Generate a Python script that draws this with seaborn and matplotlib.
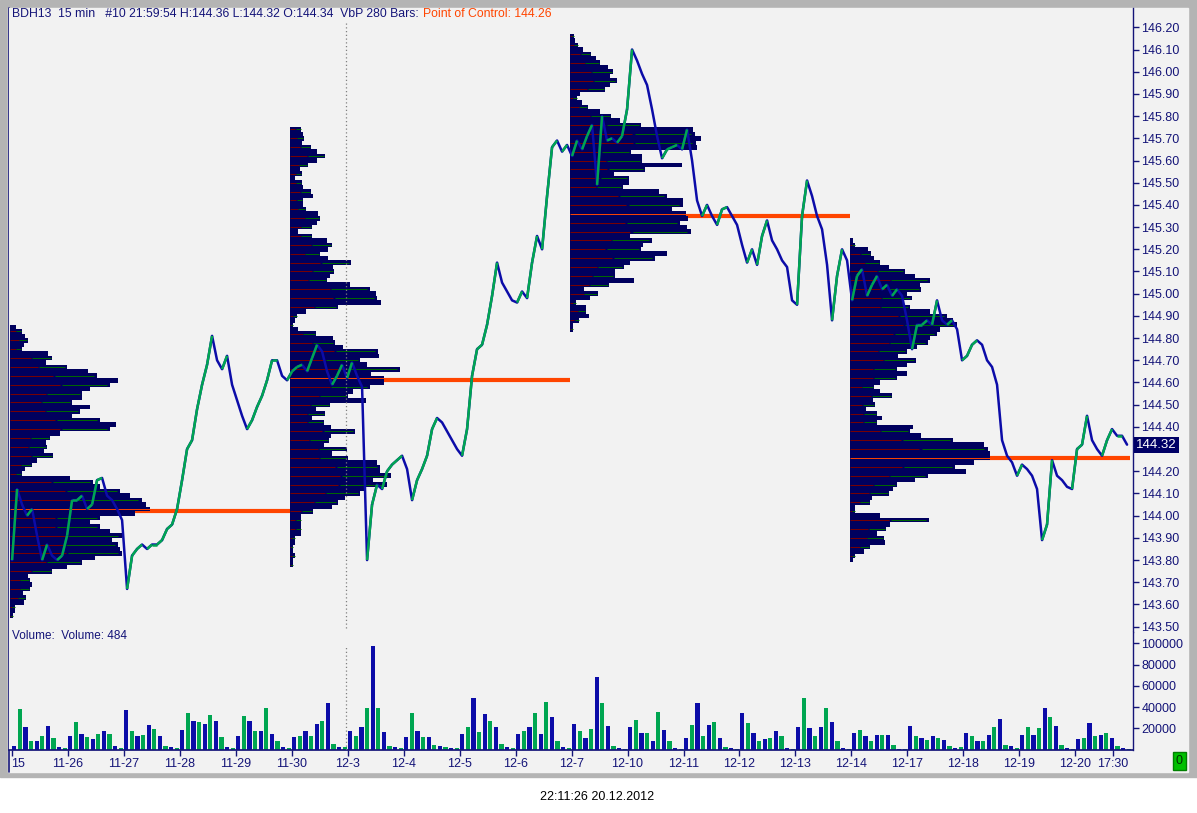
import numpy as np
import matplotlib.pyplot as plt
import seaborn as sns
from matplotlib.collections import LineCollection
from matplotlib.patches import Rectangle
from matplotlib.lines import Line2D

sns.set_theme(style='white')
plt.rcParams['font.family'] = ['Liberation Sans', 'DejaVu Sans']

# 15 min closes, one every ~1/11 of a session
close = [
    143.80, 144.12, 144.05, 144.00, 144.03, 143.91, 143.80, 143.87, 143.82, 143.80,
    143.82, 143.91, 144.07, 144.07, 144.09, 144.03, 144.05, 144.16, 144.17, 144.09,
    144.07, 144.03, 143.98, 143.67, 143.82, 143.85, 143.87, 143.85, 143.87, 143.87,
    143.89, 143.94, 143.96, 144.03, 144.16, 144.30, 144.34, 144.48, 144.59, 144.68,
    144.81, 144.70, 144.66, 144.72, 144.59, 144.52, 144.45, 144.39, 144.43, 144.49,
    144.54, 144.61, 144.70, 144.70, 144.63, 144.61, 144.65, 144.67, 144.68, 144.65,
    144.71, 144.77, 144.74, 144.65, 144.59, 144.63, 144.68, 144.62, 144.69, 144.63,
    144.58, 143.80, 144.05, 144.14, 144.12, 144.20, 144.23, 144.25, 144.27, 144.21,
    144.07, 144.16, 144.21, 144.27, 144.39, 144.44, 144.42, 144.38, 144.34, 144.30,
    144.27, 144.39, 144.63, 144.75, 144.77, 144.86, 144.99, 145.14, 145.05, 145.01,
    144.97, 144.96, 145.01, 144.98, 145.14, 145.26, 145.20, 145.44, 145.66, 145.69,
    145.64, 145.67, 145.62, 145.69, 145.65, 145.71, 145.76, 145.49, 145.80, 145.69,
    145.70, 145.68, 145.71, 145.83, 146.10, 146.05, 145.99, 145.94, 145.83, 145.71,
    145.61, 145.65, 145.66, 145.67, 145.65, 145.74, 145.60, 145.42, 145.35, 145.40,
    145.35, 145.31, 145.38, 145.39, 145.35, 145.31, 145.22, 145.14, 145.20, 145.13,
    145.26, 145.33, 145.24, 145.20, 145.15, 145.12, 144.97, 144.95, 145.35, 145.51,
    145.44, 145.35, 145.29, 145.13, 144.88, 145.08, 145.20, 145.15, 144.97, 145.08,
    145.11, 144.99, 145.04, 145.08, 145.02, 145.04, 144.99, 145.02, 144.99, 144.88,
    144.75, 144.86, 144.86, 144.88, 144.86, 144.97, 144.88, 144.86, 144.88, 144.84,
    144.70, 144.72, 144.77, 144.79, 144.77, 144.70, 144.67, 144.59, 144.34, 144.27,
    144.24, 144.18, 144.23, 144.21, 144.18, 144.12, 143.89, 143.96, 144.25, 144.18,
    144.16, 144.13, 144.12, 144.30, 144.32, 144.45, 144.34, 144.30, 144.27, 144.34,
    144.39, 144.36, 144.36, 144.32,
]

# volume, 10 buckets per session
volume = [
    3700, 37800, 20800, 8400, 8400, 13000, 22300, 10900, 2200, 1200,
    13000, 26000, 14600, 11500, 9900, 14600, 17700, 14600, 3700, 1600,
    37200, 17700, 12400, 14000, 23300, 19200, 13000, 3100, 2200, 1600,
    18600, 34100, 27000, 26400, 23900, 32600, 27000, 11500, 2800, 1600,
    13000, 31600, 27000, 17700, 17700, 38800, 14600, 8400, 2200, 1600,
    11500, 13000, 17700, 13000, 23900, 27000, 43400, 5300, 2200, 2200,
    17700, 13000, 20800, 38800, 97700, 39400, 16100, 3700, 2200, 1600,
    11500, 34100, 17700, 12100, 11500, 4700, 3700, 2800, 1600, 1600,
    14600, 20800, 48700, 16700, 33200, 27000, 20800, 5300, 2200, 1600,
    14600, 17700, 20800, 34700, 14600, 44600, 31000, 8400, 2200, 1600,
    24200, 17100, 10900, 19500, 68200, 43400, 22600, 3100, 1600, 900,
    21700, 27900, 15500, 15500, 7800, 35700, 18600, 7800, 1600, 900,
    10900, 23300, 44000, 12400, 23300, 26400, 10900, 2200, 1600, 900,
    34100, 24800, 15500, 7800, 10200, 10900, 17100, 12400, 1600, 900,
    21700, 48700, 20200, 12400, 21700, 38800, 26400, 7800, 1600, 900,
    15500, 18600, 12400, 7800, 14000, 14000, 14000, 4700, 900, 900,
    22600, 12400, 10900, 9300, 12400, 10900, 9300, 3100, 1600, 2200,
    15500, 12400, 8400, 7800, 14000, 21700, 28800, 4000, 3100, 1600,
    13300, 21700, 14000, 20200, 39400, 31000, 22300, 4700, 1600, 900,
    10200, 10900, 25400, 12400, 14000, 15500, 10900, 3100, 1600, 900,
]

# volume-at-price profiles (280 bars each), 0.02 price rows from top down
prof_top = [144.85, 145.74, 146.16, 145.24]
prof_start = [-0.03, 4.97, 9.97, 14.97]
poc = [144.02, 144.61, 145.35, 144.26]
prof1 = [6, 12, 15, 18, 14, 12, 38, 42, 36, 57, 78, 87, 108, 100, 80, 72, 72, 62, 80, 70,
         62, 90, 106, 100, 50, 40, 36, 37, 34, 43, 27, 22, 15, 12, 60, 83, 90, 110, 120, 132,
         136, 140, 125, 90, 80, 90, 100, 112, 102, 108, 110, 112, 85, 72, 57, 42, 18, 20, 22, 20,
         13, 16, 14, 5, 5, 3]
prof2 = [11, 13, 14, 12, 21, 27, 35, 27, 18, 10, 12, 5, 12, 13, 21, 23, 13, 13, 16, 28,
         30, 27, 22, 8, 22, 37, 42, 38, 30, 38, 61, 43, 44, 40, 37, 60, 80, 86, 87, 91,
         48, 16, 7, 5, 3, 8, 26, 43, 45, 53, 88, 89, 70, 77, 110, 81, 94, 94, 80, 63,
         58, 76, 40, 26, 35, 22, 34, 41, 65, 41, 39, 34, 57, 42, 58, 87, 90, 90, 101, 83,
         97, 76, 70, 55, 48, 42, 23, 11, 11, 11, 11, 11, 5, 5, 3, 3, 5, 3, 3]
prof3 = [4, 5, 8, 13, 21, 26, 30, 38, 43, 40, 47, 40, 35, 10, 7, 12, 18, 30, 41, 50,
         71, 123, 125, 131, 126, 127, 61, 72, 72, 112, 75, 44, 59, 59, 53, 89, 97, 113, 113, 102,
         116, 118, 110, 117, 121, 60, 82, 73, 71, 97, 85, 60, 54, 45, 45, 64, 39, 14, 28, 20,
         6, 16, 16, 19, 9, 3, 3]
prof4 = [3, 5, 18, 21, 24, 30, 39, 55, 65, 80, 70, 71, 57, 62, 53, 60, 80, 97, 103, 107,
         90, 87, 80, 78, 67, 57, 48, 66, 57, 47, 57, 47, 30, 24, 30, 42, 23, 25, 16, 27,
         32, 27, 63, 60, 71, 103, 134, 138, 140, 140, 124, 105, 116, 78, 65, 47, 43, 39, 22, 20,
         5, 5, 30, 79, 40, 36, 27, 34, 35, 20, 14, 5, 3]
profiles = [prof1, prof2, prof3, prof4]

day_labels = ['15', '11-26', '11-27', '11-28', '11-29', '11-30', '12-3', '12-4', '12-5',
              '12-6', '12-7', '12-10', '12-11', '12-12', '12-13', '12-14', '12-17', '12-18',
              '12-19', '12-20', '17:30']
day_ticks = list(range(20)) + [19.67]

NAVY = '#141478'
BAR_NAVY = '#00005e'
UP = '#00a651'
DOWN = '#0c0ca8'
POC_C = '#ff4500'
BG = '#f2f2f2'
W, H = 1197, 813

fig = plt.figure(figsize=(W / 100, H / 100), dpi=100, facecolor='white')
fig.patches.append(Rectangle((0, 1 - 777 / H), 1, 777 / H, transform=fig.transFigure,
                             color='#b4b4b4', zorder=-3))
fig.patches.append(Rectangle((8 / W, 1 - 772 / H), 1180 / W, 764 / H, transform=fig.transFigure,
                             color=BG, zorder=-2))
fig.lines.append(Line2D([8.5 / W, 8.5 / W], [1 - 8 / H, 1 - 772 / H], transform=fig.transFigure,
                        color=NAVY, lw=1.2, zorder=-1))

ax = fig.add_axes([9 / W, 1 - 632 / H, 1124 / W, 624 / H])
axv = fig.add_axes([9 / W, 1 - 750 / H, 1124 / W, 118 / H], sharex=ax)
for a in (ax, axv):
    a.set_facecolor(BG)
    for s in ('top', 'left', 'bottom'):
        a.spines[s].set_visible(False)
    a.spines['right'].set_color(NAVY)
    a.spines['right'].set_linewidth(1)
axv.spines['bottom'].set_visible(True)
axv.spines['bottom'].set_color(NAVY)

# profiles
step = 0.02
px_per_day = 56.0
for k, widths in enumerate(profiles):
    w = np.array(widths) / px_per_day
    levels = prof_top[k] - step * np.arange(len(widths))
    x0 = prof_start[k]
    ax.hlines(poc[k], x0, x0 + 5.0, color=POC_C, lw=3, zorder=1)
    ax.barh(levels, w, height=step * 1.05, left=x0, color=BAR_NAVY, linewidth=0,
            antialiased=False, zorder=2)
    ip = int(np.argmin(np.abs(levels - poc[k])))
    for i in range(len(widths)):
        if (i - ip) % 2:
            continue
        if i == ip:
            ax.hlines(levels[i], x0, x0 + w[i], color=POC_C, lw=0.7, zorder=3)
            continue
        ax.hlines(levels[i], x0, x0 + 0.5 * w[i], color='#7a0000', lw=0.7, zorder=3)
        ax.hlines(levels[i], x0 + 0.52 * w[i], x0 + 0.97 * w[i], color='#006a00', lw=0.7, zorder=3)

# price
t = np.arange(len(close)) * (5 / px_per_day) + 0.01
c = np.array(close)
sns.lineplot(x=t, y=c, color=DOWN, lw=1.8, ax=ax, zorder=4)
segs = [[(t[i - 1], c[i - 1]), (t[i], c[i])] for i in range(1, len(c)) if c[i] >= c[i - 1]]
ax.add_collection(LineCollection(segs, colors=UP, linewidths=1.8, zorder=5))

ax.axvline(5.98, ymin=0.006, ymax=0.978, color='#808080', ls=(0, (1, 2)), lw=0.9, zorder=6)
axv.axvline(5.98, ymin=0, ymax=0.89, color='#808080', ls=(0, (1, 2)), lw=0.9, zorder=6)

ax.set_xlim(-0.045, 20.027)
ax.set_ylim(143.476, 146.287)
ax.yaxis.tick_right()
yt = np.round(np.arange(143.5, 146.201, 0.1), 2)
ax.set_yticks(yt)
# the 144.30 label sits under the last-price box
ax.set_yticklabels(['' if abs(v - 144.3) < 1e-6 else f'{v:.2f}' for v in yt])
ax.tick_params(axis='y', colors=NAVY, direction='out', length=4, width=1, labelsize=9, pad=2,
               right=True, left=False)
ax.tick_params(axis='x', bottom=False, labelbottom=False)
ax.set_xlabel('')
ax.set_ylabel('')

ax.text(1.003, close[-1], f'{close[-1]:.2f}', transform=ax.get_yaxis_transform(), ha='left',
        va='center', color='white', fontsize=9.5, zorder=10, clip_on=False,
        bbox=dict(facecolor='#000066', edgecolor='none', pad=1.5))

# volume, bars alternate blue / green like the reference
vt = np.arange(len(volume)) / 10 + 0.05
vcol = [UP if i % 2 == 1 else DOWN for i in range(len(volume))]
axv.bar(vt, volume, width=0.075, color=vcol, linewidth=0, zorder=2)
axv.set_ylim(-376, 110680)
axv.yaxis.tick_right()
axv.set_yticks([20000, 40000, 60000, 80000, 100000])
axv.set_yticklabels(['20000', '40000', '60000', '80000', '100000'])
axv.tick_params(axis='y', colors=NAVY, direction='out', length=4, width=1, labelsize=9, pad=2,
                right=True, left=False)
axv.set_xticks(day_ticks)
axv.set_xticklabels(day_labels)
axv.tick_params(axis='x', colors=NAVY, direction='out', length=4, width=1, labelsize=9, pad=2,
                bottom=True)
axv.get_xticklabels()[0].set_ha('left')
axv.text(0.003, 0.965, 'Volume:  Volume: 484', transform=axv.transAxes, ha='left', va='center',
         color=NAVY, fontsize=8.5)

# header and footer texts
t1 = fig.text(12 / W, 1 - 14 / H, 'BDH13  15 min   #10 21:59:54 H:144.36 L:144.32 O:144.34  VbP 280 Bars:',
              ha='left', va='center', color=NAVY, fontsize=8.8)
ax.annotate('Point of Control: 144.26', xy=(1, 0.5), xycoords=t1, xytext=(3, 0),
            textcoords='offset points', ha='left', va='center', color=POC_C, fontsize=8.8,
            annotation_clip=False)
fig.text(1179 / W, 1 - 761 / H, '0', ha='center', va='center', fontsize=9, color='#003000',
         bbox=dict(facecolor='#00c000', edgecolor='#008000', pad=2.2))
fig.text(597 / W, 1 - 797 / H, '22:11:26 20.12.2012', ha='center', va='center', fontsize=9,
         color='black')

fig.savefig('out.png', dpi=100, facecolor=fig.get_facecolor())
